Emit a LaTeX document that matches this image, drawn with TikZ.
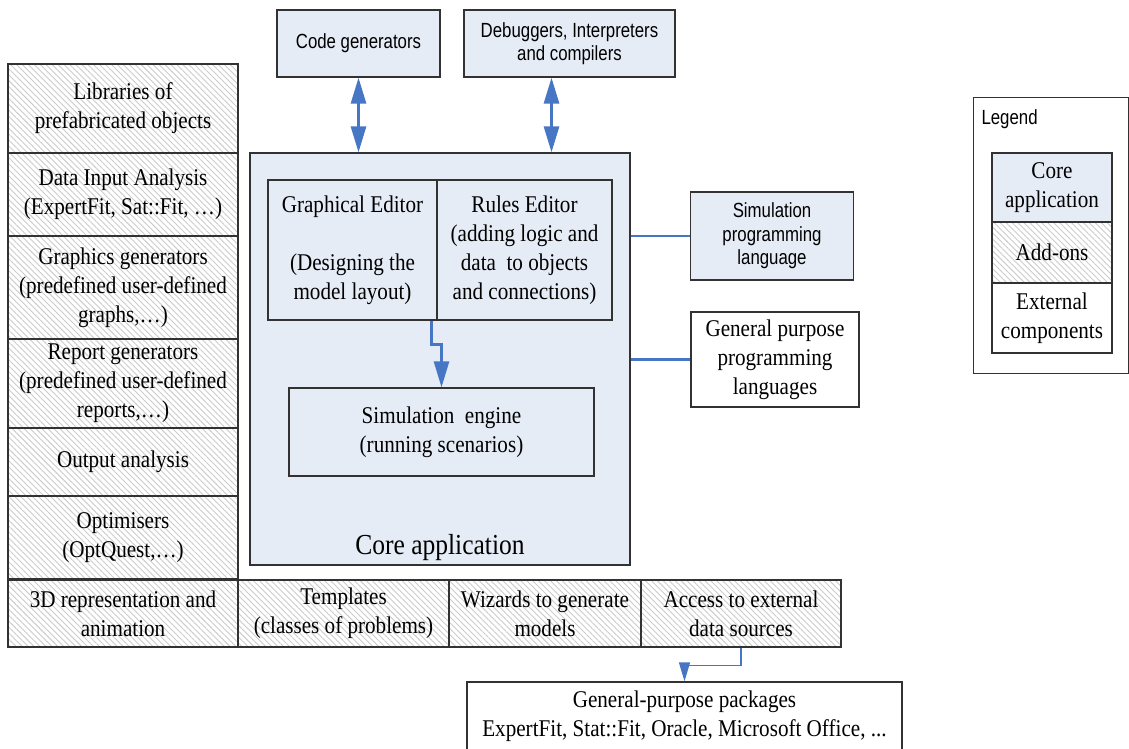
\documentclass[tikz,border=0pt]{standalone}
\usepackage{fontspec}
\setmainfont{Liberation Serif}[FakeStretch=0.88]
\setsansfont{Liberation Sans}[FakeStretch=0.82]
\usetikzlibrary{arrows.meta,patterns.meta,calc}

\definecolor{coreblue}{RGB}{230,236,246}
\definecolor{linkblue}{RGB}{70,118,196}
\definecolor{edgegray}{RGB}{50,50,50}

\newcommand\serifsz{\fontsize{24}{29}\selectfont}
\newcommand\sanssz{\sffamily\fontsize{20.5}{23.5}\selectfont}

\tikzset{
  box/.style={draw=edgegray, line width=1.3pt, inner sep=0pt, align=center, font=\serifsz},
  corebox/.style={box, fill=coreblue},
  addon/.style={box, preaction={fill=white},
    pattern={Lines[angle=-45,distance=4.2pt,line width=0.9pt]}, pattern color=black!20},
  extbox/.style={box, fill=white},
  sanstext/.style={font=\sanssz},
  link/.style={draw=linkblue, line width=2.6pt},
  bigtip/.style={link, line width=2.8pt,
    {Triangle[length=26pt,width=15pt]}-{Triangle[length=26pt,width=15pt]}},
  downtip/.style={link, -{Triangle[length=26pt,width=15pt]}},
  smalltip/.style={link, line width=1.3pt, -{Triangle[length=19pt,width=11pt]}},
}

\begin{document}
\begin{tikzpicture}[x=1pt,y=-1pt]
  \fill[white] (0,0) rectangle (1129,749);
  \useasboundingbox (0,0) rectangle (1129,749);

  % core application frame and its inner parts
  \node[corebox, minimum width=380, minimum height=412] (core) at (440,359) {};
  \node[font=\fontsize{29}{34}\selectfont] (corelbl) at (440,548) {Core application};
  \node[corebox, minimum width=169, minimum height=140] (ge) at (352.5,250)
    {Graphical Editor\\[29pt](Designing the\\model layout)};
  \node[corebox, minimum width=175, minimum height=140] (re) at (524.5,250)
    {Rules Editor\\(adding logic and\\data\ \ to objects\\and connections)};
  \node[corebox, minimum width=305, minimum height=88] (se) at (441.5,432)
    {Simulation\ \ engine\\(running scenarios)};

  % add-ons along the left side
  \node[addon, minimum width=230, minimum height=89] (lib) at (123,108.5)
    {Libraries of\\prefabricated objects};
  \node[addon, minimum width=230, minimum height=83] (dia) at (123,194.5)
    {Data Input Analysis\\(ExpertFit, Sat::Fit, …)};
  \node[addon, minimum width=230, minimum height=103] (gg) at (123,287.5)
    {Graphics generators\\(predefined user-defined\\graphs,…)};
  \node[addon, minimum width=230, minimum height=89] (rg) at (123,383.5)
    {Report generators\\(predefined user-defined\\reports,…)};
  \node[addon, minimum width=230, minimum height=68] (oa) at (123,462)
    {Output analysis};
  \node[addon, minimum width=230, minimum height=83] (opt) at (123,537.5)
    {Optimisers\\(OptQuest,…)};

  % add-ons along the bottom
  \node[addon, minimum width=230, minimum height=67] (anim) at (123,613.5)
    {3D representation and\\animation};
  \node[addon, minimum width=211, minimum height=67] (tpl) at (343.5,613.5)
    {Templates\\(classes of problems)};
  \node[addon, minimum width=192, minimum height=67] (wiz) at (545,613.5)
    {Wizards to generate\\models};
  \node[addon, minimum width=200, minimum height=67] (acc) at (741,613.5)
    {Access to external\\data sources};

  % tools above the core
  \node[corebox, sanstext, minimum width=163, minimum height=67] (cg) at (358.5,43.5)
    {Code generators};
  \node[corebox, sanstext, minimum width=211, minimum height=67] (dbg) at (569.5,43.5)
    {Debuggers, Interpreters\\and compilers};

  % languages to the right
  \node[corebox, sanstext, minimum width=163, minimum height=88] (spl) at (772,236)
    {Simulation\\programming\\language};
  \node[extbox, minimum width=168, minimum height=95] (gpl) at (775,359.5)
    {General purpose\\programming\\languages};

  % external packages
  \node[extbox, minimum width=435, minimum height=68] (gpp) at (684.5,716)
    {General-purpose packages\\ExpertFit, Stat::Fit, Oracle, Microsoft Office, ...};

  % legend
  \node[draw=edgegray, line width=1pt, fill=white, minimum width=155, minimum height=275, inner sep=0pt]
    (legend) at (1051,235.5) {};
  \node[sanstext, anchor=west] (legtitle) at (978,119) {Legend};
  \node[corebox, minimum width=120, minimum height=69] (lcore) at (1052,187.5)
    {Core\\application};
  \node[addon, minimum width=120, minimum height=61] (ladd) at (1052,252.5)
    {Add-ons};
  \node[extbox, minimum width=120, minimum height=70] (lext) at (1052,318)
    {External\\components};

  % connectors
  \draw[bigtip] (cg.south) -- (cg.south |- core.north);
  \draw[bigtip] ([xshift=-18pt]dbg.south) -- ([xshift=-18pt]dbg.south |- core.north);
  \draw[downtip] ([xshift=-6pt]ge.south east) -- ++(0,24) -| (se.north);
  \draw[link] (core.east |- spl.west) -- (spl.west);
  \draw[link] (core.east |- gpl.west) -- (gpl.west);
  \draw[smalltip] (acc.south) -- ++(0,18) -| (gpp.north);
\end{tikzpicture}
\end{document}
